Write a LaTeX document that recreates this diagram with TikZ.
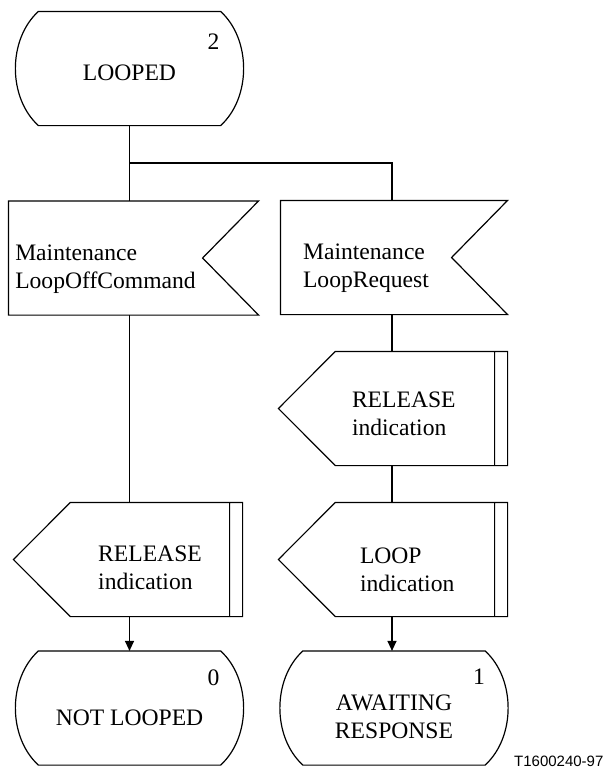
\documentclass[tikz,border=0pt]{standalone}
\usepackage{fontspec}
\setmainfont{Liberation Serif}
\setsansfont{Liberation Sans}
\usetikzlibrary{arrows.meta}

\begin{document}
\begin{tikzpicture}[x=0.5pt, y=-0.5pt, line width=0.6pt,
    font=\fontsize{11.8}{14}\selectfont,
    state/.style={minimum width=113.5pt, minimum height=56.5pt, inner sep=0pt, align=center,
      text height=11.5pt, text depth=0pt,
      append after command={\pgfextra{\draw
        ([xshift=11.5pt]\tikzlastnode.north west) -- ([xshift=-11.5pt]\tikzlastnode.north east)
        .. controls ([shift={(3.85pt,-14pt)}]\tikzlastnode.north east)
        and ([shift={(3.85pt,14pt)}]\tikzlastnode.south east) .. ([xshift=-11.5pt]\tikzlastnode.south east)
        -- ([xshift=11.5pt]\tikzlastnode.south west)
        .. controls ([shift={(-3.85pt,14pt)}]\tikzlastnode.south west)
        and ([shift={(-3.85pt,-14pt)}]\tikzlastnode.north west) .. cycle;}}},
    input/.style={minimum width=#1, minimum height=56.5pt, inner sep=0pt, align=left,
      text height=33pt, text depth=2.6pt,
      append after command={\pgfextra{\draw (\tikzlastnode.north west)
        -- ([xshift=28pt]\tikzlastnode.north east) -- (\tikzlastnode.east)
        -- ([xshift=28pt]\tikzlastnode.south east) -- (\tikzlastnode.south west) -- cycle;}}},
    output/.style={minimum width=79pt, minimum height=56.5pt, inner sep=0pt, align=left,
      text height=33pt, text depth=2.6pt,
      append after command={\pgfextra{\draw ([xshift=-28.5pt]\tikzlastnode.west)
        -- (\tikzlastnode.north west) -- ([xshift=6.5pt]\tikzlastnode.north east)
        -- ([xshift=6.5pt]\tikzlastnode.south east) -- (\tikzlastnode.south west) -- cycle
        (\tikzlastnode.north east) -- (\tikzlastnode.south east);}}},
    arr/.style={-{Triangle[length=5pt,width=4.5pt]}}]
  \useasboundingbox (0,0) rectangle (604,767);
  % states
  \node[state] (looped) at (129.5,68.5) {LOOPED};
  \node (n2) at ([shift={(-15pt,-15pt)}]looped.north east) {2};
  \node[state, text height=17pt] (notlooped) at (129.5,708) {NOT LOOPED};
  \node (n0) at ([shift={(-15pt,-13.5pt)}]notlooped.north east) {0};
  \node[state, text height=30pt] (awaiting) at (394,708) {AWAITING\\RESPONSE};
  \node (n1) at ([shift={(-14.5pt,-13pt)}]awaiting.north east) {1};
  % inputs
  \node[input=96.5pt] (in1) at (105.5,258) {Maintenance\\LoopOffCommand};
  \node[input=85pt] (in2) at (366,257.5) {Maintenance\\LoopRequest};
  % outputs
  \node[output, text width=63pt, text height=12.5pt, text depth=14pt] (rel2) at (415,408.5) {RELEASE\\indication};
  \node[output, text width=55pt, text height=17.5pt, text depth=14pt] (loopind) at (415,559.5) {LOOP\\indication};
  \node[output] (rel1) at (150,559.5) {RELEASE\\indication};
  \node[anchor=south east, inner sep=0pt, font=\sffamily\fontsize{7.5}{9}\selectfont] (tag) at (604,767) {T1600240-97};
  % connectors
  \coordinate (forkL) at (129.5,163);
  \coordinate (forkR) at (392,163);
  \draw (looped.south) -- (looped.south |- in1.north);
  \draw (forkL) -- (forkR) -- (forkR |- in2.north);
  \draw (in1.south -| forkL) -- (rel1.north -| forkL);
  \draw[arr] (rel1.south -| forkL) -- (notlooped.north);
  \draw (in2.south -| forkR) -- (rel2.north -| forkR);
  \draw (rel2.south -| forkR) -- (loopind.north -| forkR);
  \draw[arr] (loopind.south -| forkR) -- (awaiting.north -| forkR);
\end{tikzpicture}
\end{document}
